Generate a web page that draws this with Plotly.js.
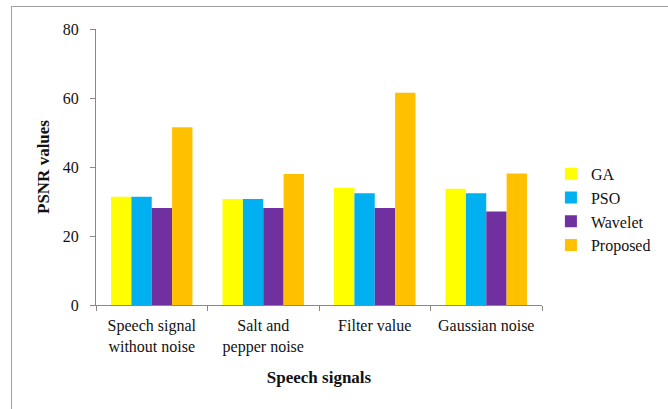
<!DOCTYPE html>
<html>
<head>
<meta charset="utf-8">
<script src="https://cdn.plot.ly/plotly-3.0.1.min.js"></script>
<style>
html,body{margin:0;padding:0;background:#fff;}
#wrap{position:relative;width:668px;height:409px;overflow:hidden;}
#chart{position:absolute;left:0;top:0;width:668px;height:409px;}
#frame{position:absolute;left:11px;top:6px;width:700px;height:450px;border:1px solid #a0a0a0;pointer-events:none;}
</style>
</head>
<body>
<div id="wrap"><div id="chart"></div><div id="frame"></div></div>
<script>
const categories = ["Speech signal<br>without noise", "Salt and<br>pepper noise", "Filter value", "Gaussian noise"];
const seriesNames = ["GA", "PSO", "Wavelet", "Proposed"];
const GA = [31.4, 30.7, 34.0, 33.7];
const PSO = [31.4, 30.7, 32.4, 32.4];
const Wavelet = [28.1, 28.1, 28.1, 27.1];
const Proposed = [51.5, 38.0, 61.5, 38.1];
const yTicks = [0, 20, 40, 60, 80];
const colors = ["#FFFF00", "#00B0F0", "#7030A0", "#FFC000"];

const values = [GA, PSO, Wavelet, Proposed];
const traces = seriesNames.map((n, i) => ({
  type: "bar", name: n, x: categories, y: values[i],
  marker: {color: colors[i], line: {width: 0}}
}));

const FAM = "Liberation Serif";
const layout = {
  width: 668, height: 409,
  margin: {l: 96, r: 117, t: 29, b: 104},
  paper_bgcolor: "#fff", plot_bgcolor: "#fff",
  font: {family: FAM, size: 16, color: "#111"},
  barmode: "group", bargap: 0.27, bargroupgap: 0,
  showlegend: true,
  legend: {x: 1.02, xanchor: "left", y: 0.345, yanchor: "middle",
           font: {family: FAM, size: 16}, itemwidth: 30,
           tracegroupgap: 0, bgcolor: "rgba(0,0,0,0)"},
  xaxis: {
    type: "category", showline: true, linecolor: "#888", linewidth: 1,
    ticks: "outside", tickson: "boundaries", ticklen: 5, tickcolor: "#888",
    showgrid: false, tickfont: {family: FAM, size: 16}, ticklabelstandoff: 6,
    tickangle: 0,
    title: {text: "<b>Speech signals</b>", font: {family: FAM, size: 17}, standoff: 16}
  },
  yaxis: {
    range: [0, 80], tickvals: yTicks, ticktext: yTicks.map(String),
    showline: true, linecolor: "#888", linewidth: 1,
    ticks: "outside", ticklen: 5, tickcolor: "#888",
    showgrid: false, zeroline: false,
    tickfont: {family: FAM, size: 16}, ticklabelstandoff: 8,
    title: {text: "<b>PSNR values</b>", font: {family: FAM, size: 17}, standoff: 8}
  }
};
Plotly.newPlot("chart", traces, layout, {displayModeBar: false, staticPlot: true});
</script>
</body>
</html>
